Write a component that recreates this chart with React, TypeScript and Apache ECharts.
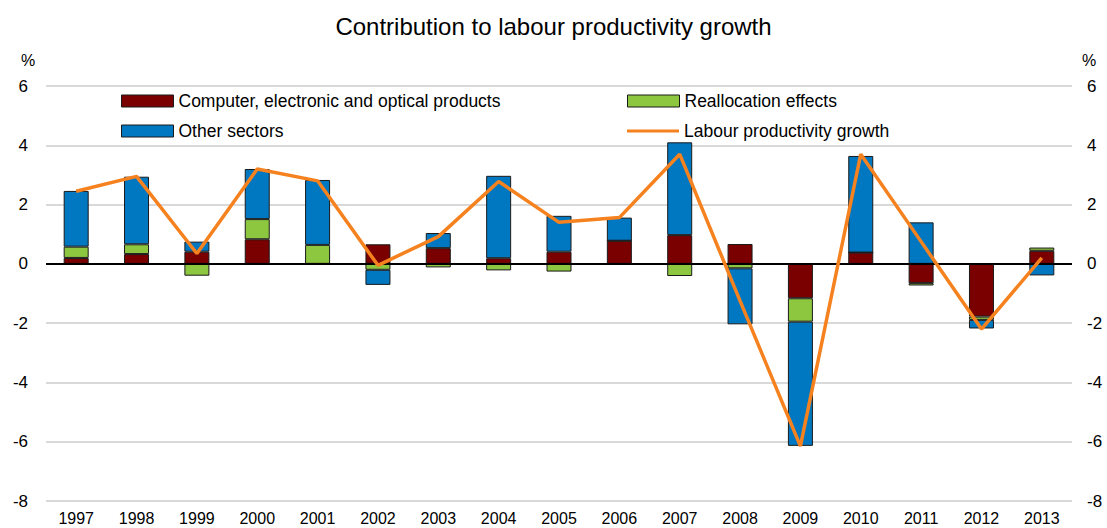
import React, { useEffect, useRef } from "react";
import * as echarts from "echarts";

const years = ["1997","1998","1999","2000","2001","2002","2003","2004","2005","2006","2007","2008","2009","2010","2011","2012","2013"];
const computerProducts = [0.20, 0.33, 0.41, 0.83, -0.03, 0.66, 0.53, 0.19, 0.41, 0.78, 0.97, 0.67, -1.16, 0.38, -0.65, -1.78, 0.44];
const reallocation = [0.38, 0.33, -0.40, 0.68, 0.64, -0.20, -0.12, -0.22, -0.26, 0.0, -0.41, -0.15, -0.79, 0.0, -0.08, -0.11, 0.11];
const otherSectors = [1.88, 2.28, 0.34, 1.69, 2.19, -0.51, 0.51, 2.78, 1.21, 0.78, 3.13, -1.89, -4.19, 3.26, 1.40, -0.29, -0.39];
const productivityGrowth = [2.45, 2.95, 0.35, 3.2, 2.8, -0.05, 0.92, 2.78, 1.4, 1.56, 3.7, -1.25, -6.15, 3.7, 0.75, -2.2, 0.2];

const FONT = "'Liberation Sans', Arial, Helvetica, sans-serif";
const RED = "#7a0000";
const GREEN = "#8dc63f";
const BLUE = "#0078c1";
const ORANGE = "#f5821f";

export default function App() {
  const ref = useRef<HTMLDivElement>(null);
  useEffect(() => {
    if (!ref.current) return;
    const chart = echarts.init(ref.current, null, { renderer: "svg" });
    const legendText = { fontSize: 17.5, color: "#000", fontFamily: FONT };
    const mkLegend = (name: string, color: string, left: number, top: number, isLine = false) => ({
      data: [name],
      left,
      top,
      padding: 0,
      itemWidth: 52,
      itemHeight: isLine ? 3 : 12,
      itemGap: 6,
      icon: "rect",
      itemStyle: isLine
        ? { color, borderWidth: 0 }
        : { color, borderColor: "#1a1a1a", borderWidth: 1 },
      textStyle: legendText,
      selectedMode: false,
    });
    const barItem = (color: string) => ({ color, borderColor: "#1a1a1a", borderWidth: 1 });
    const option = {
      animation: false,
      textStyle: { fontFamily: FONT },
      title: {
        text: "Contribution to labour productivity growth",
        left: "center",
        top: 9,
        textStyle: { fontSize: 24, fontWeight: "normal", color: "#000", fontFamily: FONT },
      },
      grid: { left: 46, right: 35, top: 86, bottom: 27 },
      legend: [
        mkLegend("Computer, electronic and optical products", RED, 121, 92),
        mkLegend("Reallocation effects", GREEN, 627, 92),
        mkLegend("Other sectors", BLUE, 121, 122),
        mkLegend("Labour productivity growth", ORANGE, 627, 122, true),
      ],
      graphic: [
        { type: "text", left: 21, top: 52, style: { text: "%", fontSize: 16, fill: "#000", fontFamily: FONT } },
        { type: "text", left: 1082, top: 52, style: { text: "%", fontSize: 16, fill: "#000", fontFamily: FONT } },
      ],
      xAxis: {
        type: "category",
        data: years,
        axisLine: { show: false },
        axisTick: { show: false },
        axisLabel: { fontSize: 16, color: "#000", margin: 9, fontFamily: FONT },
      },
      yAxis: [
        {
          type: "value",
          min: -8,
          max: 6,
          interval: 2,
          axisLine: { show: false },
          axisTick: { show: false },
          splitLine: { lineStyle: { color: "#d9d9d9", width: 2 } },
          axisLabel: { fontSize: 17, color: "#000", margin: 18, fontFamily: FONT },
        },
        {
          type: "value",
          position: "right",
          min: -8,
          max: 6,
          interval: 2,
          axisLine: { show: false },
          axisTick: { show: false },
          splitLine: { show: false },
          axisLabel: { fontSize: 17, color: "#000", margin: 15, fontFamily: FONT },
        },
      ],
      series: [
        {
          name: "Computer, electronic and optical products",
          type: "bar",
          stack: "c",
          barWidth: 25,
          data: computerProducts,
          itemStyle: barItem(RED),
        },
        {
          name: "Reallocation effects",
          type: "bar",
          stack: "c",
          barWidth: 25,
          data: reallocation,
          itemStyle: barItem(GREEN),
        },
        {
          name: "Other sectors",
          type: "bar",
          stack: "c",
          barWidth: 25,
          data: otherSectors,
          itemStyle: barItem(BLUE),
          markLine: {
            silent: true,
            symbol: ["none", "none"],
            label: { show: false },
            lineStyle: { color: "#000", width: 2, type: "solid" },
            data: [{ yAxis: 0 }],
          },
        },
        {
          name: "Labour productivity growth",
          type: "line",
          data: productivityGrowth,
          symbol: "none",
          lineStyle: { color: ORANGE, width: 3.5 },
          itemStyle: { color: ORANGE },
          z: 5,
        },
      ],
    };
    chart.setOption(option as any);
    return () => chart.dispose();
  }, []);
  return (
    <div
      ref={ref}
      style={{ position: "absolute", left: 0, top: 0, width: 1107, height: 528, background: "#fff" }}
    />
  );
}
